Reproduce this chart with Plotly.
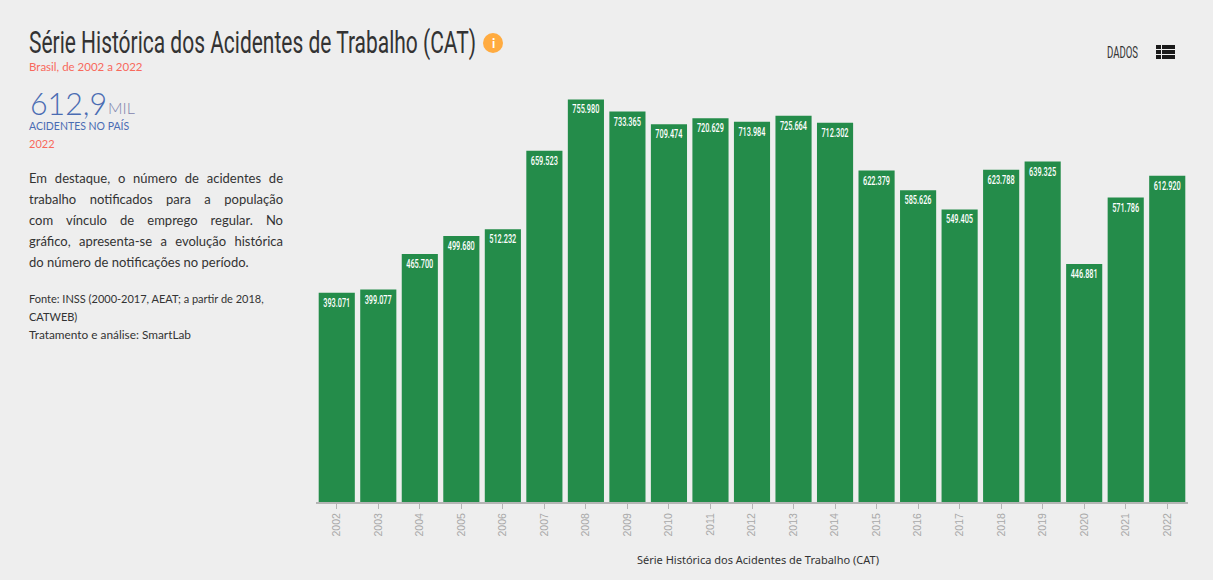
import json
import plotly.graph_objects as go

anos = ["2002", "2003", "2004", "2005", "2006", "2007", "2008", "2009", "2010", "2011", "2012",
        "2013", "2014", "2015", "2016", "2017", "2018", "2019", "2020", "2021", "2022"]
acidentes = [393071, 399077, 465700, 499680, 512232, 659523, 755980, 733365, 709474, 720629, 713984,
             725664, 712302, 622379, 585626, 549405, 623788, 639325, 446881, 571786, 612920]
rotulos = [f"{v:,}".replace(",", ".") for v in acidentes]

titulo = "Série Histórica dos Acidentes de Trabalho (CAT)"
texto_destaque = ["Em destaque, o número de acidentes de",
                  "trabalho notificados para a população",
                  "com vínculo de emprego regular. No",
                  "gráfico, apresenta-se a evolução histórica",
                  "do número de notificações no período."]
texto_fonte = ["Fonte: INSS (2000-2017, AEAT; a partir de 2018,", "CATWEB)", "Tratamento e análise: SmartLab"]

W, H = 1213, 580
L, R, T, B = 316, 1188, 90, 502
FUNDO = "#eeeeee"
VERDE = "#248c4a"
SALMAO = "#f8695c"
AZUL = "#4a6cb3"
ESCURO = "#333333"
ESTREITA = "Roboto"


def px(x):
    return (x - L) / (R - L)


def py(y):
    return (B - y) / (B - T)


def texto(x, y, t, size, color, family="Lato", anchor="left", weight=400):
    fig.add_annotation(x=px(x), y=py(y), xref="paper", yref="paper", text=t, showarrow=False,
                       xanchor=anchor, yanchor="middle", borderpad=0,
                       font=dict(size=size, color=color, family=family, weight=weight))


fig = go.Figure(go.Bar(x=anos, y=acidentes, text=rotulos, textposition="inside", insidetextanchor="end",
                       textangle=0, cliponaxis=False, marker=dict(color=VERDE, line=dict(width=0)),
                       insidetextfont=dict(size=12, color="white", family=ESTREITA, weight=500),
                       constraintext="none", hoverinfo="x+y"))

texto(28, 42, titulo, 32, ESCURO, ESTREITA)
texto(28, 67, "Brasil, de 2002 a 2022", 11.5, SALMAO)
texto(29, 103, "612,9", 31, AZUL, weight=300)
texto(107, 107, "MIL", 16, "#7f84ad", weight=300)
texto(28, 126, "ACIDENTES NO PAÍS", 10.5, AZUL)
texto(28, 143, "2022", 11, SALMAO)
for i, linha in enumerate(texto_destaque):
    texto(28, 178 + 21 * i, linha, 13, ESCURO)
for i, linha in enumerate(texto_fonte):
    texto(28, 298 + 18 * i, linha, 11, ESCURO)
texto(1106, 53, "DADOS", 16, ESCURO, ESTREITA)
texto(493, 43, "<b>i</b>", 13, "white", "Lato", "center")
texto(758, 559, titulo, 11, ESCURO, "Noto Sans", "center")

# icone de informacao e icone da tabela
shapes = [dict(type="circle", xref="paper", yref="paper", x0=px(483), x1=px(503), y0=py(53), y1=py(33),
               fillcolor="#ffab40", line_width=0, layer="below")]
for y0 in [45, 50, 55]:
    for x0, x1 in [(1156, 1161), (1162, 1175)]:
        shapes.append(dict(type="rect", xref="paper", yref="paper", x0=px(x0), x1=px(x1), y0=py(y0), y1=py(y0 + 4),
                           fillcolor="#1a1a1a", line_width=0))

fig.update_layout(
    width=W, height=H, margin=dict(l=L, r=W - R, t=T, b=H - B, pad=0),
    paper_bgcolor=FUNDO, plot_bgcolor=FUNDO, bargap=0.13, showlegend=False, shapes=shapes,
    font=dict(family="Lato"),
    xaxis=dict(type="category", tickangle=-90, ticks="outside", ticklen=5, tickcolor="#b5b5b5", tickwidth=1,
               showline=True, linecolor="#b5b5b5", linewidth=2, showgrid=False,
               tickfont=dict(size=10.5, color="#a8a8a8", family="Liberation Sans")),
    yaxis=dict(range=[0, 773800], visible=False, showgrid=False, zeroline=False),
)

# o navegador nao tem fonte condensada nem texto justificado: ajusta a largura de cada linha
larguras = {titulo: 447, "612,9": 77, "DADOS": 31, "Tratamento e análise: SmartLab": 162}
justificadas = texto_destaque[:4]
script = """
document.body.style.margin = '0';
var larguras = %s, justificadas = %s;
document.querySelectorAll('.annotation-text').forEach(function (t) {
    var s = t.textContent, antes = t.getComputedTextLength();
    if (t.getBoundingClientRect().top > 540) return;
    if (!larguras[s] && justificadas.indexOf(s) < 0) return;
    // ancora o texto na esquerda antes de mudar a largura
    t.style.textAnchor = 'start';
    t.setAttribute('x', parseFloat(t.getAttribute('x')) - antes / 2);
    if (larguras[s]) {
        t.setAttribute('textLength', larguras[s]);
        t.setAttribute('lengthAdjust', 'spacingAndGlyphs');
        // a caixa da anotacao acompanha o texto
        var bg = t.closest('.annotation').querySelector('rect.bg');
        if (bg) bg.setAttribute('width', larguras[s]);
    } else {
        t.setAttribute('word-spacing', (254 - antes) / (s.split(' ').length - 1));
    }
});
document.querySelectorAll('text.bartext').forEach(function (t) {
    t.setAttribute('textLength', 27);
    t.setAttribute('lengthAdjust', 'spacingAndGlyphs');
});
""" % (json.dumps(larguras), json.dumps(justificadas))

fig.write_html("out.html", config={"displayModeBar": False}, post_script=script)
